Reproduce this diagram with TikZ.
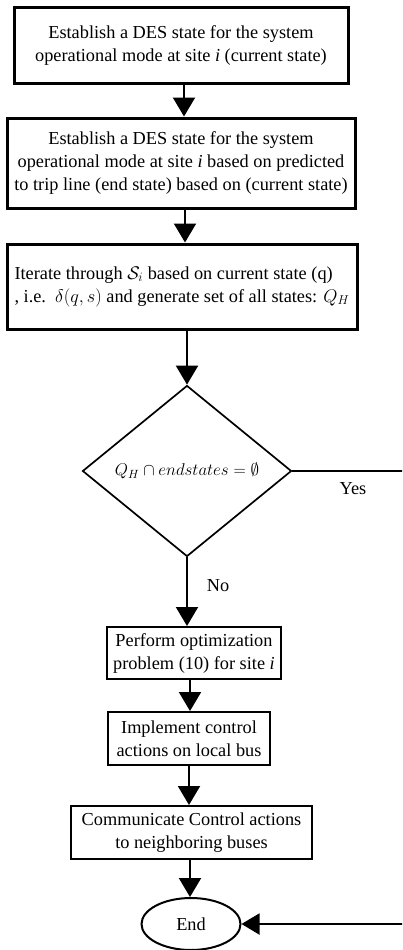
\RequirePackage{fix-cm}
\documentclass[tikz,border=0pt]{standalone}
\usepackage{fontspec}
\setmainfont{Liberation Serif}
\usetikzlibrary{arrows.meta,shapes.geometric}
\begin{document}
\begin{tikzpicture}[x=1pt,y=-1pt,
  every node/.style={font=\fontsize{18.3}{23}\selectfont, inner sep=0pt},
  thickbox/.style={draw, line width=3pt, align=center},
  thinbox/.style={draw, line width=2pt, align=center},
  arr/.style={line width=2pt, -{Triangle[width=22pt,length=19pt]}}]
\useasboundingbox (0,0) rectangle (402,950);
\clip (0,0) rectangle (402,950);
\node[thickbox, minimum width=334pt, minimum height=75pt] (b1) at (181,45.5)
  {Establish a DES state for the system\\operational mode at site \textit{i} (current state)};
\node[thickbox, minimum width=348pt, minimum height=90pt] (b2) at (181,163)
  {Establish a DES state for the system\\operational mode at site \textit{i} based on predicted\\to trip line (end state) based on (current state)};
\node[thickbox, minimum width=350pt, minimum height=85pt, align=left] (b3) at (182,286.5)
  {Iterate through $\mathcal{S}_i$ based on current state (q)\\, i.e.\ \ $\delta(q,s)$ and generate set of all states: $Q_H$};
\node[diamond, draw, line width=1.7pt, minimum width=209pt, minimum height=171pt, aspect=1.22, font=\fontsize{17}{20}\selectfont] (d) at (187,471)
  {$Q_H\cap endstates=\emptyset$};
\node[thinbox, minimum width=174pt, minimum height=52pt] (b4) at (194,653)
  {Perform optimization\\problem (10) for site \textit{i}};
\node[thinbox, minimum width=162pt, minimum height=53pt] (b5) at (189,738.5)
  {Implement control\\actions on local bus};
\node[thinbox, minimum width=241pt, minimum height=53pt] (b6) at (191.5,832.5)
  {Communicate Control actions\\to neighboring buses};
\node[ellipse, draw, line width=2pt, minimum width=99pt, minimum height=52pt] (e) at (191,924) {End};
\node (yes) at (353,489) {Yes};
\node (no) at (218,586) {No};
\coordinate (r1) at (406,471);
\coordinate (r2) at (406,924);
\draw[arr] ([xshift=3pt]b1.south) -- ([xshift=3pt]b2.north);
\draw[arr] ([xshift=4pt]b2.south) -- ([xshift=3pt]b3.north);
\draw[arr] ([xshift=5pt]b3.south) -- (d.north);
\draw[arr] (d.south) -- ([xshift=-7pt]b4.north);
\draw[arr] ([xshift=-4pt]b4.south) -- ([xshift=1pt]b5.north);
\draw[arr] (b5.south) -- ([xshift=-2.5pt]b6.north);
\draw[arr] ([xshift=-1.5pt]b6.south) -- ([xshift=-1pt]e.north);
\draw[line width=2pt, -{Triangle[width=21pt,length=18pt]}] (d.east) -- (r1) -- (r2) -- (e.east);
\end{tikzpicture}
\end{document}
